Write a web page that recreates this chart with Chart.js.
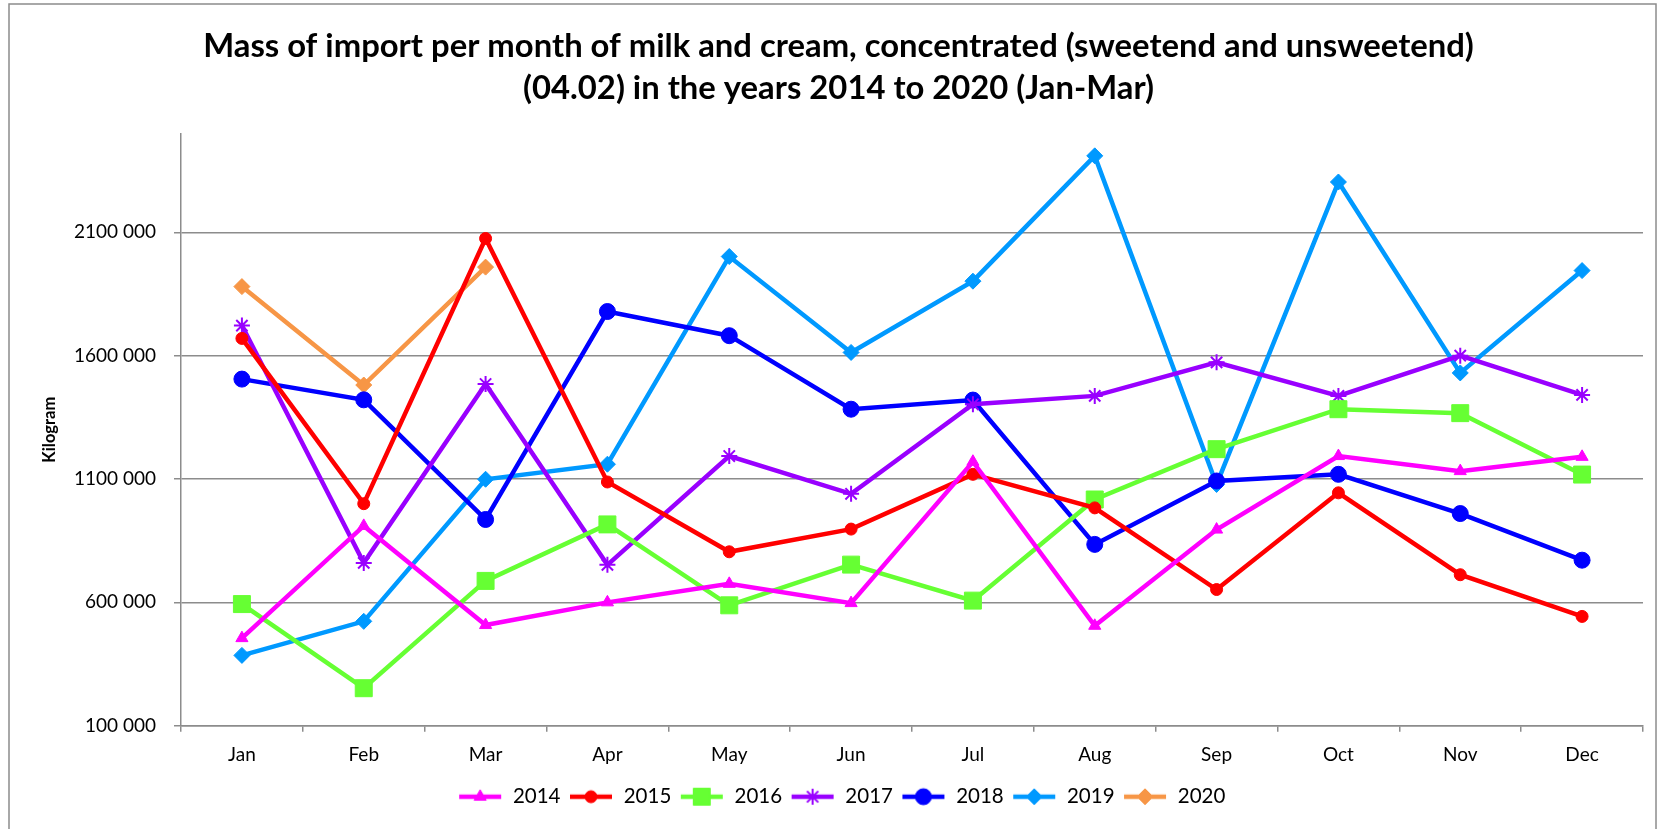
<!DOCTYPE html>
<html>
<head>
<meta charset="utf-8">
<script src="https://cdn.jsdelivr.net/npm/chart.js@4.4.1/dist/chart.umd.min.js"></script>
<style>
  html, body { margin: 0; padding: 0; background: #fff; }
  #wrap { width: 1659px; height: 829px; }
</style>
</head>
<body>
<div id="wrap"><canvas id="chart"></canvas></div>
<script>
// data
const months = ['Jan','Feb','Mar','Apr','May','Jun','Jul','Aug','Sep','Oct','Nov','Dec'];
const yTicks = [100000, 600000, 1100000, 1600000, 2100000];

const y2014 = [455000, 910000, 508000, 600000, 675000, 597000, 1170000, 505000, 895000, 1193000, 1132000, 1190000];
const y2015 = [1670000, 1000000, 2075000, 1088000, 805000, 897000, 1119000, 983000, 652000, 1044000, 712000, 543000];
const y2016 = [593000, 252000, 687000, 916000, 588000, 753000, 607000, 1017000, 1221000, 1383000, 1367000, 1118000];
const y2017 = [1722000, 760000, 1485000, 752000, 1193000, 1040000, 1403000, 1437000, 1573000, 1437000, 1600000, 1441000];
const y2018 = [1505000, 1421000, 936000, 1779000, 1681000, 1383000, 1420000, 835000, 1092000, 1119000, 960000, 771000];
const y2019 = [385000, 523000, 1099000, 1160000, 2002000, 1613000, 1902000, 2410000, 1078000, 2304000, 1530000, 1945000];
const y2020 = [1880000, 1481000, 1959000];

const FONT = 'Lato, "Open Sans", sans-serif';

function series(label, data, color, style, radius, pbw) {
  return {
    label: label,
    data: data,
    borderColor: color,
    backgroundColor: color,
    borderWidth: 4.5,
    pointStyle: style,
    pointRadius: radius,
    pointHoverRadius: radius,
    pointBackgroundColor: color,
    pointBorderColor: color,
    pointBorderWidth: pbw,
    tension: 0
  };
}

const datasets = [
  series('2014', y2014, '#FF00FF', 'triangle', 7, 1),
  series('2015', y2015, '#FF0000', 'circle', 6, 1),
  series('2016', y2016, '#66FF33', 'rect', 12, 1),
  series('2017', y2017, '#9900FF', 'star', 8, 2),
  series('2018', y2018, '#0000FF', 'circle', 8, 1),
  series('2019', y2019, '#0099FF', 'rectRot', 8, 1),
  series('2020', y2020, '#F79646', 'rectRot', 8, 1)
];

// small legend picture: line with the marker in the middle
function legendIcon(ds) {
  const c = document.createElement('canvas');
  c.width = 52; c.height = 20;
  const ctx = c.getContext('2d');
  ctx.strokeStyle = ds.borderColor;
  ctx.lineWidth = 4.5;
  ctx.beginPath(); ctx.moveTo(5, 10); ctx.lineTo(47, 10); ctx.stroke();
  ctx.fillStyle = ds.backgroundColor;
  ctx.lineWidth = ds.pointBorderWidth;
  Chart.helpers.drawPoint(ctx, {pointStyle: ds.pointStyle, radius: ds.pointRadius, rotation: 0, borderWidth: ds.pointBorderWidth}, 26, 10);
  return c;
}

const frame = {
  id: 'frame',
  beforeDraw(chart) {
    const ctx = chart.ctx;
    ctx.save();
    ctx.fillStyle = '#fff';
    ctx.fillRect(0, 0, chart.width, chart.height);
    ctx.strokeStyle = '#8c8c8c';
    ctx.lineWidth = 1.5;
    ctx.strokeRect(9, 4, 1647, 840);
    ctx.restore();
  }
};

// title and legend sit a little right of the canvas centre in the original
const nudge = {
  id: 'nudge',
  afterLayout(chart) {
    if (chart.titleBlock) { chart.titleBlock.left += 17; chart.titleBlock.right += 17; }
    if (chart.legend) { chart.legend.left += 20; chart.legend.right += 20; }
  }
};

function fmt(v) {
  const th = Math.floor(v / 1000);
  return th + ' ' + String(v % 1000).padStart(3, '0');
}

new Chart(document.getElementById('chart'), {
  type: 'line',
  data: { labels: months, datasets: datasets },
  plugins: [frame, nudge],
  options: {
    responsive: true,
    maintainAspectRatio: false,
    animation: false,
    layout: { padding: { left: 0, right: 16, top: 0, bottom: 12 } },
    plugins: {
      title: {
        display: true,
        text: ['Mass of import per month of milk and cream, concentrated (sweetend and unsweetend)',
               '(04.02) in the years 2014 to 2020 (Jan-Mar)'],
        color: '#000',
        font: { family: FONT, size: 32.8, weight: 'bold', lineHeight: 1.26 },
        padding: { top: 26, bottom: 25 }
      },
      legend: {
        position: 'bottom',
        labels: {
          color: '#000',
          font: { family: FONT, size: 20.5, lineHeight: 1 },
          usePointStyle: true,
          pointStyleWidth: 45,
          padding: 8,
          generateLabels(chart) {
            return chart.data.datasets.map((ds, i) => ({
              text: ds.label,
              fillStyle: ds.backgroundColor,
              strokeStyle: ds.borderColor,
              lineWidth: 0,
              pointStyle: legendIcon(ds),
              fontColor: '#000',
              hidden: false,
              datasetIndex: i
            }));
          }
        }
      },
      tooltip: { enabled: false }
    },
    scales: {
      x: {
        offset: true,
        grid: { offset: true, drawOnChartArea: false, drawTicks: true, tickLength: 6, color: '#8c8c8c', lineWidth: 1.5 },
        border: { display: true, color: '#8c8c8c', width: 1.5 },
        ticks: { color: '#000', font: { family: FONT, size: 19 }, padding: 12 }
      },
      y: {
        min: 100000,
        max: 2500000,
        afterBuildTicks(scale) { scale.ticks = yTicks.map(v => ({ value: v })); },
        afterFit(scale) { scale.width = 181; },
        grid: { color: '#8c8c8c', lineWidth: 1.5, tickLength: 7, drawTicks: true },
        border: { display: true, color: '#8c8c8c', width: 1.5 },
        ticks: { color: '#000', font: { family: FONT, size: 19 }, padding: 18, callback: v => fmt(v) },
        title: {
          display: true,
          text: 'Kilogram',
          color: '#000',
          font: { family: FONT, size: 16.5, weight: 'bold' },
          padding: { top: 40, bottom: 0 }
        }
      }
    }
  }
});
</script>
</body>
</html>
